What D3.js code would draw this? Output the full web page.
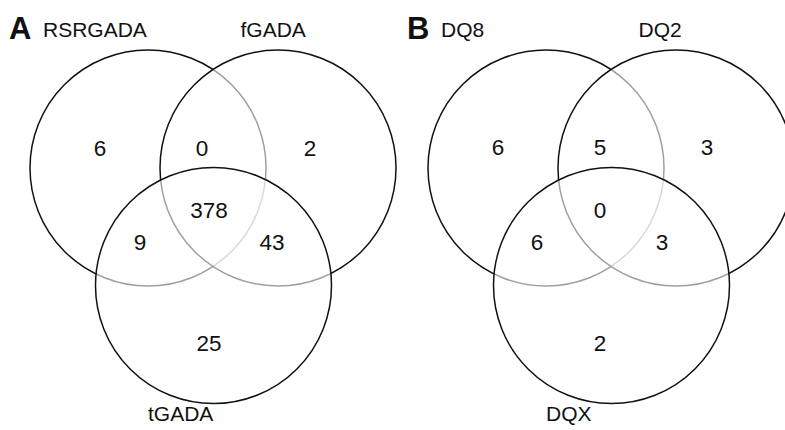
<!DOCTYPE html>
<html>
<head>
<meta charset="utf-8">
<script src="https://cdn.jsdelivr.net/npm/d3@7"></script>
<style>
  html, body { margin: 0; padding: 0; background: #fff; }
  svg { display: block; }
  text { font-family: "Liberation Sans", Arial, Helvetica, sans-serif; fill: #111; }
</style>
</head>
<body>
<svg id="chart" width="785" height="430"></svg>
<script>
// ---- data ----
const panelLetters = ["A", "B"];
const setNamesA = ["RSRGADA", "fGADA", "tGADA"];
const setNamesB = ["DQ8", "DQ2", "DQX"];
// regions: only1, 1&2, only2, 1&2&3, 1&3, 2&3, only3
const regionKeys = ["100", "110", "010", "111", "101", "011", "001"];
const countsA = [6, 0, 2, 378, 9, 43, 25];
const countsB = [6, 5, 3, 0, 6, 3, 2];

// ---- layout ----
const W = 785, H = 430;
const R = 118;
const panelOrigins = [[148, 168], [546, 168]];
// circle centres relative to the first circle centre (pixels)
const circleOffsets = [[0, 0], [130, 0], [65.5, 117.5]];
const labelOffsets = [[-105, -131], [92.5, -131], [0, 253]];
const regionOffsetsA = [[-48, -20], [54, -20], [162, -20], [61, 42], [-8, 74], [124, 74], [61, 175]];
const regionOffsetsB = [[-48, -21], [54, -21], [161, -21], [54, 42], [-9, 74], [116, 74], [54, 175]];

const panels = [
  { letter: panelLetters[0], names: setNamesA, counts: countsA, offs: regionOffsetsA, origin: panelOrigins[0] },
  { letter: panelLetters[1], names: setNamesB, counts: countsB, offs: regionOffsetsB, origin: panelOrigins[1] }
];

const svg = d3.select("#chart");

panels.forEach(p => {
  const x = d3.scaleLinear().domain([0, 1]).range([p.origin[0], p.origin[0] + 1]);
  const y = d3.scaleLinear().domain([0, 1]).range([p.origin[1], p.origin[1] + 1]);
  const g = svg.append("g");

  g.selectAll("circle.set")
    .data(circleOffsets)
    .join("circle")
    .attr("class", "set")
    .attr("cx", d => x(d[0]))
    .attr("cy", d => y(d[1]))
    .attr("r", R)
    .attr("fill", "#fff")
    .attr("fill-opacity", 0.6)
    .attr("stroke", "#111")
    .attr("stroke-width", 1.5);

  g.selectAll("text.count")
    .data(p.counts.map((c, i) => ({ c, key: regionKeys[i], o: p.offs[i] })))
    .join("text")
    .attr("class", "count")
    .attr("x", d => x(d.o[0]))
    .attr("y", d => y(d.o[1]))
    .attr("dy", "0.36em")
    .attr("text-anchor", "middle")
    .attr("font-size", 22.5)
    .text(d => d.c);

  g.selectAll("text.setname")
    .data(p.names.map((n, i) => ({ n, o: labelOffsets[i] })))
    .join("text")
    .attr("class", "setname")
    .attr("x", d => x(d.o[0]))
    .attr("y", d => y(d.o[1]))
    .attr("font-size", 21)
    .text(d => d.n);

  g.append("text")
    .attr("x", x(-139))
    .attr("y", y(-129))
    .attr("font-size", 31)
    .attr("font-weight", "bold")
    .text(p.letter);
});
</script>
</body>
</html>
